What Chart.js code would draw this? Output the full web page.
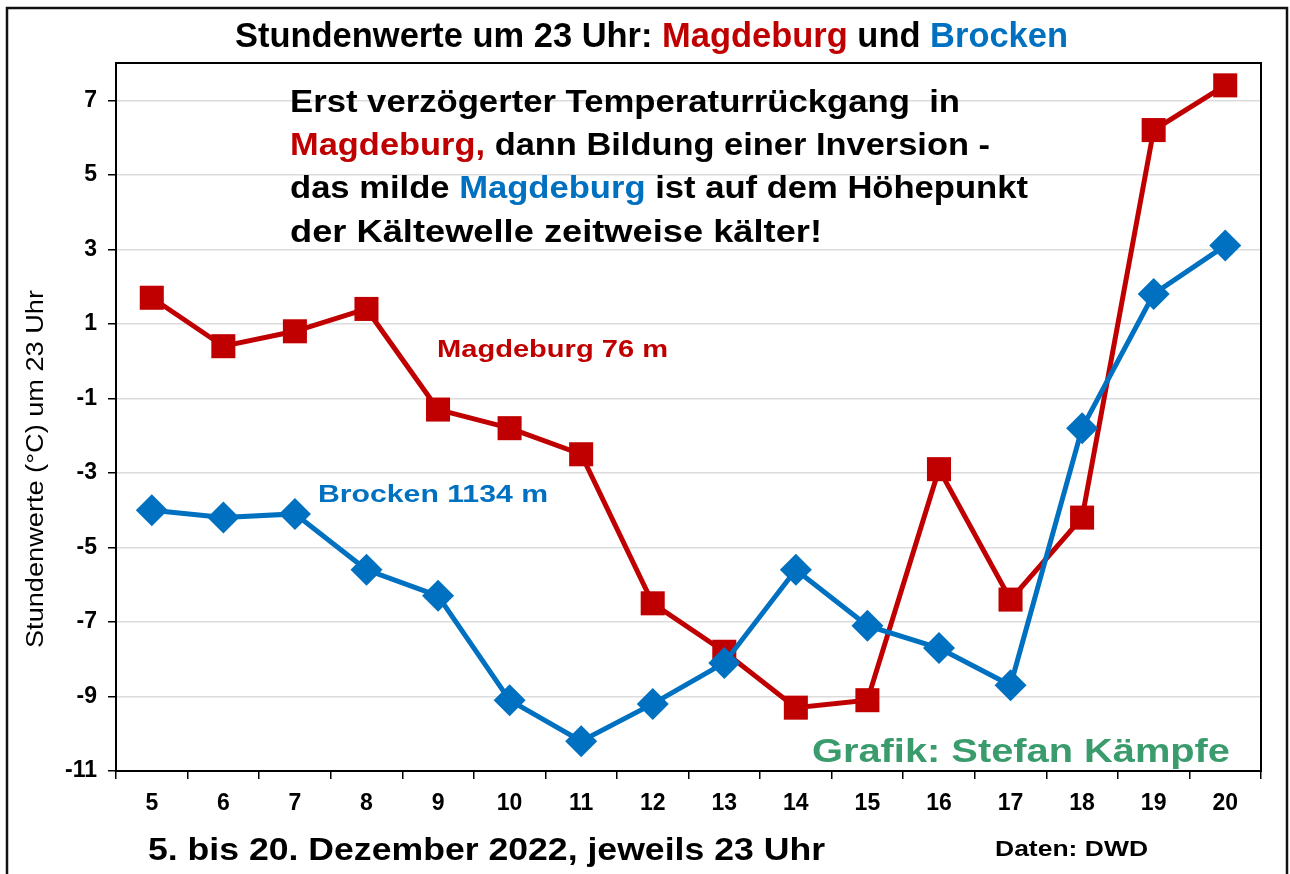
<!DOCTYPE html>
<html>
<head>
<meta charset="utf-8">
<script src="https://cdn.jsdelivr.net/npm/chart.js@4/dist/chart.umd.min.js"></script>
<style>
  html, body { margin: 0; padding: 0; background: #fff; }
  canvas { display: block; }
</style>
</head>
<body>
<canvas id="tempChart" width="1290" height="874"></canvas>
<script>
// Tage im Dezember 2022, jeweils 23 Uhr
const days = ['5', '6', '7', '8', '9', '10', '11', '12', '13', '14', '15', '16', '17', '18', '19', '20'];
const magdeburg = [1.7, 0.4, 0.8, 1.4, -1.3, -1.8, -2.5, -6.5, -7.8, -9.3, -9.1, -2.9, -6.4, -4.2, 6.2, 7.4];
const brocken = [-4.0, -4.2, -4.1, -5.6, -6.3, -9.1, -10.2, -9.2, -8.1, -5.6, -7.1, -7.7, -8.7, -1.8, 1.8, 3.1];
const yTicks = [-11, -9, -7, -5, -3, -1, 1, 3, 5, 7];

const RED = '#c00000';
const BLUE = '#0070c0';
const GREEN = '#3a9c6c';
const FONT = "'Liberation Sans', Arial, sans-serif";

// Text in mehreren Farben, optional auf eine Breite gestaucht
function drawText(ctx, parts, x, y, font, width, rotate) {
  ctx.save();
  ctx.font = font;
  ctx.textBaseline = 'alphabetic';
  ctx.textAlign = 'left';
  const natural = parts.reduce((s, p) => s + ctx.measureText(p[0]).width, 0);
  const sx = width ? width / natural : 1;
  ctx.translate(x, y);
  if (rotate) ctx.rotate(rotate);
  ctx.scale(sx, 1);
  let cx = rotate ? -natural / 2 : 0;
  for (const [t, c] of parts) {
    ctx.fillStyle = c;
    ctx.fillText(t, cx, 0);
    cx += ctx.measureText(t).width;
  }
  ctx.restore();
}

const decorations = {
  id: 'decorations',
  afterDraw(chart) {
    const ctx = chart.ctx;
    const a = chart.chartArea;

    // Rahmen um Diagrammfläche
    ctx.save();
    ctx.strokeStyle = '#000';
    ctx.lineWidth = 2;
    ctx.strokeRect(a.left, a.top, a.right - a.left, a.bottom - a.top);
    // äußerer Rahmen
    ctx.strokeStyle = '#111';
    ctx.lineWidth = 2.5;
    ctx.strokeRect(7, 8, 1280, 880);
    ctx.restore();

    drawText(ctx, [['Stundenwerte um 23 Uhr: ', '#000'], ['Magdeburg', RED], [' und ', '#000'], ['Brocken', BLUE]],
      235, 47, 'bold 35px ' + FONT, 833);

    drawText(ctx, [['Stundenwerte (°C) um 23 Uhr', '#000']], 43, 469, '23px ' + FONT, 358, -Math.PI / 2);

    const af = 'bold 31px ' + FONT;
    drawText(ctx, [['Erst verzögerter Temperaturrückgang  in', '#000']], 290, 112, af, 670);
    drawText(ctx, [['Magdeburg,', RED], [' dann Bildung einer Inversion -', '#000']], 290, 155, af, 700);
    drawText(ctx, [['das milde ', '#000'], ['Magdeburg', BLUE], [' ist auf dem Höhepunkt', '#000']], 290, 198, af, 738);
    drawText(ctx, [['der Kältewelle zeitweise kälter!', '#000']], 290, 242, af, 532);

    drawText(ctx, [['Magdeburg 76 m', RED]], 437, 357, 'bold 24px ' + FONT, 231);
    drawText(ctx, [['Brocken 1134 m', BLUE]], 318, 502, 'bold 24px ' + FONT, 230);
    drawText(ctx, [['Grafik: Stefan Kämpfe', GREEN]], 812, 762, 'bold 34px ' + FONT, 418);

    drawText(ctx, [['5. bis 20. Dezember 2022, jeweils 23 Uhr', '#000']], 148, 860, 'bold 31px ' + FONT, 677);
    drawText(ctx, [['Daten: DWD', '#000']], 995, 856, 'bold 22px ' + FONT, 153);
  }
};

const ctx = document.getElementById('tempChart').getContext('2d');
const tempChart = new Chart(ctx, {
  type: 'line',
  data: {
    labels: days,
    datasets: [
      {
        label: 'Brocken 1134 m',
        data: brocken,
        borderColor: BLUE,
        backgroundColor: BLUE,
        borderWidth: 5,
        pointStyle: 'rectRot',
        pointRadius: 16,
        pointBorderWidth: 0,
        tension: 0
      },
      {
        label: 'Magdeburg 76 m',
        data: magdeburg,
        borderColor: RED,
        backgroundColor: RED,
        borderWidth: 5,
        pointStyle: 'rect',
        pointRadius: 17,
        pointBorderWidth: 0,
        tension: 0
      }
    ]
  },
  options: {
    responsive: false,
    animation: false,
    devicePixelRatio: 1,
    layout: { padding: { left: 0, top: 63, right: 29, bottom: 0 } },
    plugins: {
      legend: { display: false },
      tooltip: { enabled: false }
    },
    scales: {
      x: {
        offset: true,
        grid: { offset: true, drawOnChartArea: false, drawTicks: true, tickLength: 8, tickColor: '#000', lineWidth: 1.5 },
        border: { display: true, color: '#000', width: 2 },
        ticks: { color: '#000', padding: 11, font: { family: FONT, size: 23, weight: 'bold' }, maxRotation: 0 },
        afterFit: s => { s.height = 103; }
      },
      y: {
        min: -11,
        max: 8,
        afterBuildTicks: s => { s.ticks = yTicks.map(v => ({ value: v })); },
        grid: { color: '#dcdcdc', lineWidth: 1.5, tickLength: 8, tickColor: '#000' },
        border: { display: true, color: '#000', width: 2 },
        ticks: { color: '#000', padding: 11, font: { family: FONT, size: 23, weight: 'bold' } },
        afterFit: s => { s.width = 116; }
      }
    }
  },
  plugins: [decorations]
});
</script>
</body>
</html>
